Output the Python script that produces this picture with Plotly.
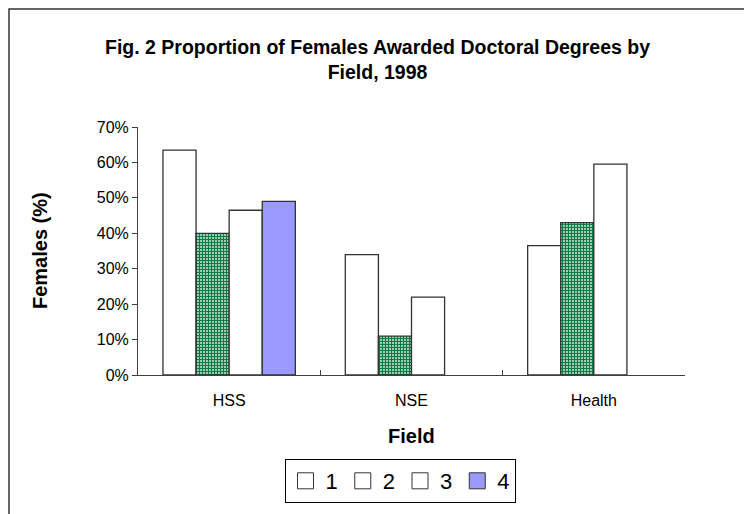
import plotly.graph_objects as go

categories = ["HSS", "NSE", "Health"]
series_names = ["1", "2", "3", "4"]
s1 = [0.635, 0.34, 0.365]
s2 = [0.40, 0.11, 0.43]
s3 = [0.465, 0.22, 0.595]
s4 = [0.49, None, None]
y_ticks = [0, 0.1, 0.2, 0.3, 0.4, 0.5, 0.6, 0.7]
y_ticklabels = ["0%", "10%", "20%", "30%", "40%", "50%", "60%", "70%"]

FONT = "Liberation Sans, Arial, sans-serif"
OUT = "#333333"

fig = go.Figure()
line = dict(color=OUT, width=1.3)
fig.add_trace(go.Bar(x=categories, y=s1, name="1", showlegend=False,
                     marker=dict(color="white", line=line)))
fig.add_trace(go.Bar(x=categories, y=s2, name="2", showlegend=False,
                     marker=dict(color="white", line=line,
                                 pattern=dict(shape="+", size=3, solidity=0.7,
                                              fgcolor="#0c7a42", bgcolor="white",
                                              fgopacity=1))))
fig.add_trace(go.Bar(x=categories, y=s3, name="3", showlegend=False,
                     marker=dict(color="white", line=line)))
fig.add_trace(go.Bar(x=categories, y=s4, name="4", showlegend=False,
                     marker=dict(color="#9999FF", line=line)))

legend_colors = ["white", "white", "white", "#9999FF"]
for nm, col in zip(series_names, legend_colors):
    fig.add_trace(go.Scatter(x=[None], y=[None], mode="markers", name=nm,
                             marker=dict(symbol="square", size=16, color=col,
                                         line=dict(color=OUT, width=1))))

OFF = 8  # page offset of the figure (body margin)
W, H = 752, 514
# plot area in page coordinates
PX0, PX1, PY0, PY1 = 138, 685, 127, 375
L, T = PX0 - OFF, PY0 - OFF
R, B = W - (PX1 - OFF), H - (PY1 - OFF)
pw, ph = PX1 - PX0, PY1 - PY0

def px(x):
    return (x - PX0) / pw

def py(y):
    return (PY1 - y) / ph

fig.update_layout(
    width=W, height=H,
    margin=dict(l=L, r=R, t=T, b=B),
    paper_bgcolor="white", plot_bgcolor="white",
    barmode="group", bargap=0.274, bargroupgap=0,
    font=dict(family=FONT, color="black"),
    showlegend=True,
    legend=dict(orientation="h", x=px(400), y=py(459), xanchor="center", yanchor="top",
                bordercolor="black", borderwidth=1, bgcolor="white",
                font=dict(size=22, family=FONT), itemwidth=30, tracegroupgap=0),
    xaxis=dict(type="category", showline=True, linecolor="#404040", linewidth=1,
               ticks="inside", tickson="boundaries", ticklen=5, tickcolor="#404040",
               tickfont=dict(size=16, family=FONT), showgrid=False,
               ticklabelstandoff=11),
    yaxis=dict(range=[0, 0.7], tickvals=y_ticks, ticktext=y_ticklabels,
               showline=True, linecolor="#404040", linewidth=1,
               ticks="outside", ticklen=5, tickcolor="#404040",
               tickfont=dict(size=16, family=FONT), showgrid=False, zeroline=False),
    shapes=[dict(type="rect", xref="paper", yref="paper",
                 x0=px(OFF + 1), x1=px(780), y0=py(540), y1=py(OFF + 1),
                 line=dict(color="#333333", width=1.5), layer="below")],
    annotations=[
        dict(text="<b>Fig. 2 Proportion of Females Awarded Doctoral Degrees by<br>Field, 1998</b>",
             xref="paper", yref="paper", x=px(377), y=py(60), xanchor="center", yanchor="middle",
             showarrow=False, font=dict(size=19.5, family=FONT, color="black")),
        dict(text="<b>Females (%)</b>", xref="paper", yref="paper", x=px(40), y=py(251),
             textangle=-90, showarrow=False, xanchor="center", yanchor="middle",
             font=dict(size=20, family=FONT, color="black")),
        dict(text="<b>Field</b>", xref="paper", yref="paper", x=px(411), y=py(436),
             showarrow=False, xanchor="center", yanchor="middle",
             font=dict(size=20, family=FONT, color="black")),
    ],
)

fig.write_html("out.html")
